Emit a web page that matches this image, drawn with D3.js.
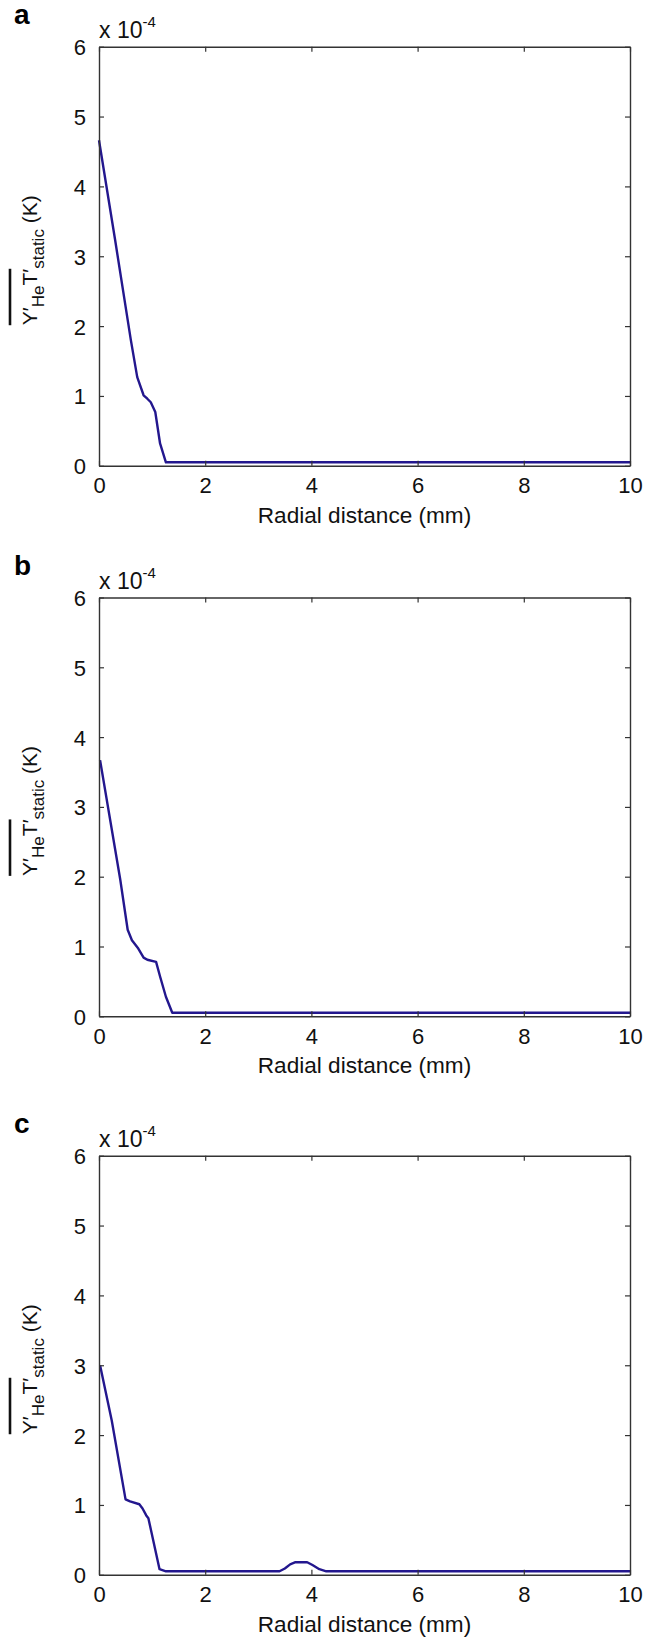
<!DOCTYPE html>
<html>
<head>
<meta charset="utf-8">
<script src="https://cdn.jsdelivr.net/npm/d3@7"></script>
<style>
  html, body { margin: 0; padding: 0; background: #fff; }
  svg { display: block; }
  text { font-family: "Liberation Sans", Arial, Helvetica, sans-serif; }
</style>
</head>
<body>
<svg id="chart" width="647" height="1637"></svg>
<script>
// ---- data ----
const panelNames = ["a", "b", "c"];
const xTicks = [0, 2, 4, 6, 8, 10];
const yTicks = [0, 1, 2, 3, 4, 5, 6];
const yExponentLabel = "-4";
const xAxisTitle = "Radial distance (mm)";

// panel a
const xA = [0, 0.30, 0.60, 0.72, 0.84, 0.91, 0.975, 1.06, 1.15, 1.26, 10];
const yA = [4.66, 3.25, 1.80, 1.27, 1.01, 0.96, 0.91, 0.77, 0.32, 0.05, 0.05];
// panel b
const xB = [0.02, 0.40, 0.54, 0.62, 0.74, 0.84, 0.91, 1.075, 1.15, 1.26, 1.38, 10];
const yB = [3.67, 1.96, 1.24, 1.09, 0.97, 0.84, 0.81, 0.78, 0.57, 0.28, 0.05, 0.05];
// panel c
const xC = [0.02, 0.24, 0.50, 0.585, 0.76, 0.82, 0.89, 0.93, 1.14, 1.26, 3.40, 3.50, 3.60, 3.70, 3.92, 4.02, 4.15, 4.28, 10];
const yC = [3.00, 2.21, 1.08, 1.05, 1.01, 0.95, 0.85, 0.81, 0.08, 0.05, 0.05, 0.09, 0.15, 0.18, 0.18, 0.14, 0.08, 0.05, 0.05];

const seriesX = [xA, xB, xC];
const seriesY = [yA, yB, yC];

// ---- layout ----
const svg = d3.select("#chart");
const left = 99, right = 630;
const panels = [
  { top: 46.7, bottom: 465.8 },
  { top: 597.5, bottom: 1016.3 },
  { top: 1155.7, bottom: 1574.8 }
];
const lineColor = "#23178e";
const axisColor = "#333333";
const font = 22;

panels.forEach((p, i) => {
  const x = d3.scaleLinear().domain([0, 10]).range([left, right]);
  const y = d3.scaleLinear().domain([0, 6]).range([p.bottom, p.top]);
  const g = svg.append("g");

  // panel letter
  g.append("text").attr("x", 14).attr("y", p.top - 22.5)
    .attr("font-size", 28).attr("font-weight", "bold").attr("fill", "#000")
    .text(panelNames[i]);

  // exponent label
  const ex = g.append("text").attr("x", 99).attr("y", p.top - 8.4)
    .attr("font-size", 23).attr("fill", "#111");
  ex.append("tspan").text("x 10");
  ex.append("tspan").attr("font-size", 15).attr("dy", -11).text(yExponentLabel);

  // data line
  const pts = seriesX[i].map((v, k) => [v, seriesY[i][k]]);
  g.append("path").datum(pts)
    .attr("fill", "none").attr("stroke", lineColor).attr("stroke-width", 2.4)
    .attr("stroke-linejoin", "round")
    .attr("d", d3.line().x(d => x(d[0])).y(d => y(d[1])));

  // axes
  const styleAxis = sel => {
    sel.selectAll("path.domain").attr("stroke", axisColor).attr("stroke-width", 1.4);
    sel.selectAll(".tick line").attr("stroke", axisColor).attr("stroke-width", 1.2);
    sel.selectAll(".tick text").attr("fill", "#111").attr("font-size", font)
      .attr("font-family", "Liberation Sans, Arial, sans-serif");
  };
  const gx = g.append("g").attr("transform", `translate(0,${p.bottom})`)
    .call(d3.axisBottom(x).tickValues(xTicks).tickFormat(d3.format("d"))
      .tickSizeInner(-5).tickSizeOuter(0).tickPadding(11.7))
    .call(styleAxis);
  g.append("g").attr("transform", `translate(0,${p.top})`)
    .call(d3.axisTop(x).tickValues(xTicks).tickFormat("")
      .tickSizeInner(-5).tickSizeOuter(0))
    .call(styleAxis);
  const gy = g.append("g").attr("transform", `translate(${left},0)`)
    .call(d3.axisLeft(y).tickValues(yTicks).tickFormat(d3.format("d"))
      .tickSizeInner(-5).tickSizeOuter(0).tickPadding(13))
    .call(styleAxis);
  g.append("g").attr("transform", `translate(${right},0)`)
    .call(d3.axisRight(y).tickValues(yTicks).tickFormat("")
      .tickSizeInner(-5).tickSizeOuter(0))
    .call(styleAxis);
  gx.selectAll(".tick text").attr("y", 27.3).attr("dy", null);
  gy.selectAll(".tick text").attr("dy", "0.36em");

  // x-axis title
  g.append("text").attr("x", (left + right) / 2).attr("y", p.bottom + 56.7)
    .attr("text-anchor", "middle").attr("font-size", 22.6).attr("fill", "#111")
    .text(xAxisTitle);

  // y-axis title with overline
  const cy = (p.top + p.bottom) / 2 + 4;
  const yl = g.append("g").attr("transform", `translate(37,${cy}) rotate(-90)`);
  const t = yl.append("text").attr("text-anchor", "middle").attr("font-size", 21).attr("fill", "#111");
  t.append("tspan").text("Y\u2032");
  t.append("tspan").attr("font-size", 17).attr("dy", 7).text("He");
  t.append("tspan").attr("dy", -7).text("T\u2032");
  t.append("tspan").attr("font-size", 17).attr("dy", 7).text("static");
  t.append("tspan").attr("dy", -7).text(" (K)");
  const node = t.node();
  const x0 = node.getStartPositionOfChar(0).x;
  const x1 = node.getEndPositionOfChar(5).x;
  yl.append("line").attr("x1", x0).attr("x2", x1).attr("y1", -27).attr("y2", -27)
    .attr("stroke", "#111").attr("stroke-width", 2.6);
});
</script>
</body>
</html>
